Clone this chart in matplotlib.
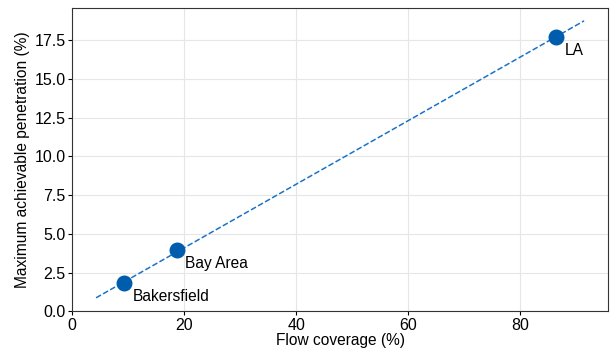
import matplotlib.pyplot as plt
import numpy as np

plt.rcParams['font.family'] = ['Liberation Sans', 'DejaVu Sans']
plt.rcParams['font.size'] = 11.2

# data
cities = ['Bakersfield', 'Bay Area', 'LA']
coverage = [9.3, 18.75, 86.4]
penetration = [1.8, 3.95, 17.7]

fig, ax = plt.subplots(figsize=(6.1, 3.53), dpi=100)

# linear fit through the points, extended a bit past both ends
slope, intercept = np.polyfit(coverage, penetration, 1)
fit_x = np.array([min(coverage) - 5, max(coverage) + 5])
ax.plot(fit_x, slope * fit_x + intercept, '--', color='#1a73c8', linewidth=1.1, zorder=2)

ax.scatter(coverage, penetration, s=110, color='#005cac', zorder=3)
for name, x, y in zip(cities, coverage, penetration):
    ax.annotate(name, (x, y), xytext=(6, -4), textcoords='offset points',
                ha='left', va='top')

ax.set_xlim(0, 95.7)
ax.set_ylim(0, 19.56)
ax.set_xticks([0, 20, 40, 60, 80])
ax.set_yticks(np.arange(0, 17.6, 2.5))
ax.yaxis.set_major_formatter(plt.FormatStrFormatter('%.1f'))
ax.grid(True, color='#e6e6e6', linewidth=0.8)
ax.set_axisbelow(True)
ax.tick_params(length=3, width=0.8, pad=1.5, labelsize=11.5)
for s in ax.spines.values():
    s.set_color('#333333')
    s.set_linewidth(0.8)

ax.set_xlabel('Flow coverage (%)', labelpad=0)
ax.set_ylabel('Maximum achievable penetration (%)', labelpad=3)

plt.subplots_adjust(left=0.118, right=0.997, top=0.977, bottom=0.118)
plt.savefig('out.png')
